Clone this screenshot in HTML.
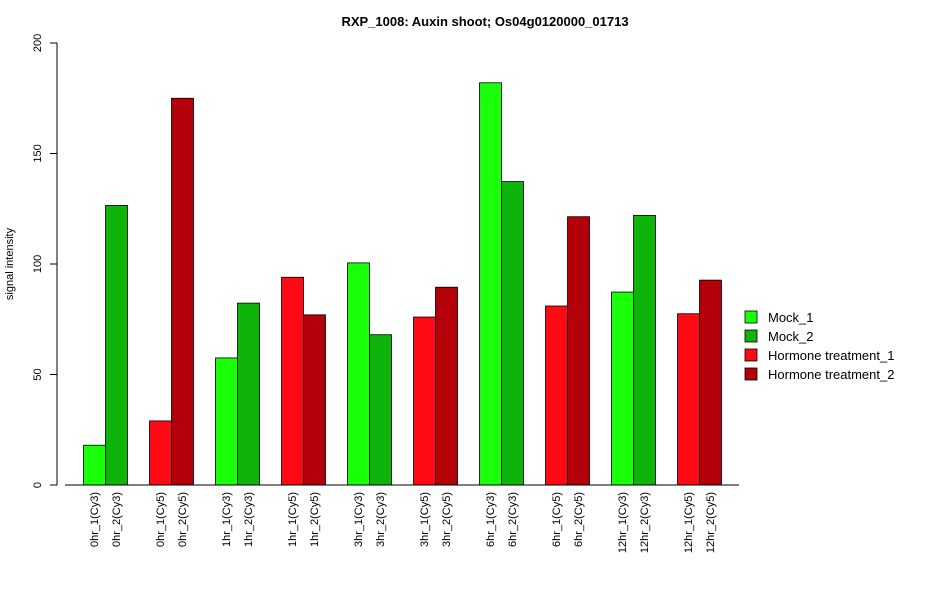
<!DOCTYPE html>
<html><head><meta charset="utf-8"><style>
body{margin:0;background:#fff;}
svg text{font-family:"Liberation Sans",Arial,sans-serif;fill:#000;}
</style></head><body>
<svg id="chart" width="950" height="600" xmlns="http://www.w3.org/2000/svg">
<text x="485" y="26" text-anchor="middle" font-size="13" font-weight="bold">RXP_1008: Auxin shoot; Os04g0120000_01713</text>
<text transform="translate(13,264) rotate(-90)" text-anchor="middle" font-size="11">signal intensity</text>
<g id="yaxis"></g>
<g id="bars"></g>
<g id="xlabels"></g>
<line x1="65" y1="485" x2="739" y2="485" stroke="#000" stroke-width="1"/>
<g id="legend"></g>
</svg>
<script>
const categories=["0hr_1(Cy3)","0hr_2(Cy3)","0hr_1(Cy5)","0hr_2(Cy5)","1hr_1(Cy3)","1hr_2(Cy3)","1hr_1(Cy5)","1hr_2(Cy5)","3hr_1(Cy3)","3hr_2(Cy3)","3hr_1(Cy5)","3hr_2(Cy5)","6hr_1(Cy3)","6hr_2(Cy3)","6hr_1(Cy5)","6hr_2(Cy5)","12hr_1(Cy3)","12hr_2(Cy3)","12hr_1(Cy5)","12hr_2(Cy5)"];
const values=[18,126.5,29,175,57.5,82.3,94,77,100.5,68,76,89.5,182,137.3,81,121.4,87.3,122,77.5,92.7];
const seriesIndex=[0,1,2,3,0,1,2,3,0,1,2,3,0,1,2,3,0,1,2,3];
const seriesNames=["Mock_1","Mock_2","Hormone treatment_1","Hormone treatment_2"];
const yTicks=[0,50,100,150,200];
const colors=["#1aff0a","#0eb40a","#ff0a14","#b40008"];
const NS="http://www.w3.org/2000/svg";
const y=v=>485-v*2.21;
const x=i=>61+22*(1+3*Math.floor(i/2)+(i%2));
function mk(t,a,p){const e=document.createElementNS(NS,t);for(const k in a)e.setAttribute(k,a[k]);p.appendChild(e);return e;}
const ya=document.getElementById('yaxis');
const ax=mk('line',{x1:57,x2:57,y1:y(yTicks[0]),y2:y(yTicks[yTicks.length-1]),stroke:'#000'},ya);


yTicks.forEach(t=>{
 const l=mk('line',{x1:50,x2:57,y1:y(t),y2:y(t),stroke:'#000'},ya);
 
 
 const tx=mk('text',{transform:`translate(41,${y(t)}) rotate(-90)`,'text-anchor':'middle','font-size':11},ya);
 
 
 tx.textContent=t;
});
const bg=document.getElementById('bars'),xl=document.getElementById('xlabels');
values.forEach((v,i)=>{
 const r=mk('rect',{x:x(i)+0.5,y:y(v),width:22,height:y(0)-y(v),fill:colors[seriesIndex[i]],stroke:'#000','stroke-width':0.8},bg);
 
 
 const t=mk('text',{transform:`translate(${x(i)+15},492) rotate(-90)`,'text-anchor':'end','font-size':11},xl);
 
 
 t.textContent=categories[i];
});
const lg=document.getElementById('legend');
seriesNames.forEach((n,i)=>{
 const g=mk('g',{},lg);
 
 
 mk('rect',{x:745,y:311+i*19,width:12,height:12,fill:colors[i],stroke:'#000','stroke-width':0.8},g);
 const t=mk('text',{x:768,y:322+i*19,'font-size':13},g);
 t.textContent=n;
});
</script>
</body></html>
